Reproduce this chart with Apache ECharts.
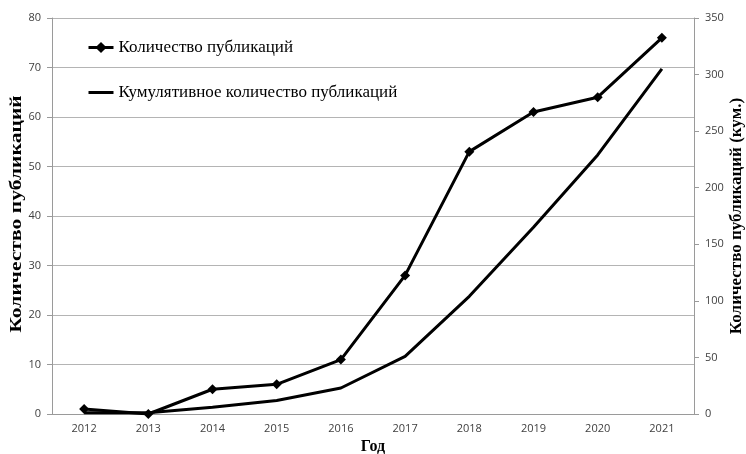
<!DOCTYPE html>
<html><head><meta charset="utf-8">
<script src="https://cdn.jsdelivr.net/npm/echarts@6/dist/echarts.min.js"></script>
<style>html,body{margin:0;padding:0;background:#fff}#c{width:746px;height:454px}</style>
</head><body><div id="c"></div>
<script>
const years = ['2012','2013','2014','2015','2016','2017','2018','2019','2020','2021'];
const counts = [1, 0, 5, 6, 11, 28, 53, 61, 64, 76];
const cumulative = [1, 1, 6, 12, 23, 51, 104, 165, 229, 305];
const nameCount = 'Количество публикаций';
const nameCum = 'Кумулятивное количество публикаций';
const leftTitle = 'Количество публикаций';
const rightTitle = 'Количество публикаций (кум.)';
const xTitle = 'Год';

const chart = echarts.init(document.getElementById('c'));
const labelFont = {fontFamily: '"Open Sans", "Liberation Sans", sans-serif', fontSize: 11, color: '#404040'};
const serif = '"Liberation Serif", "DejaVu Serif", serif';
const titleFont = {fontFamily: serif, fontSize: 15, fontWeight: 'bold', color: '#000'};
chart.setOption({
  animation: false,
  grid: {left: 52, right: 52, top: 18, bottom: 40, outerBoundsMode: 'none', containLabel: false},
  graphic: [{
    type: 'text', x: 17, y: 214, rotation: Math.PI / 2, scaleX: 1.27,
    style: {text: leftTitle, fontFamily: serif, fontSize: 17, fontWeight: 'bold', fill: '#000',
            align: 'center', verticalAlign: 'middle', textAlign: 'center', textVerticalAlign: 'middle'}
  }],
  legend: {
    orient: 'vertical', left: 82, top: 34, itemGap: 28, itemWidth: 25, itemHeight: 14,
    lineStyle: {width: 3},
    textStyle: {fontFamily: serif, fontSize: 17, color: '#000'},
    data: [
      {name: nameCount},
      {name: nameCum, icon: 'path://M0,0 L25,0 L25,3 L0,3 Z', symbolKeepAspect: true}
    ]
  },
  xAxis: {
    type: 'category', data: years, boundaryGap: true,
    axisLine: {lineStyle: {color: '#9a9a9a', width: 1}},
    axisTick: {show: false},
    axisLabel: Object.assign({margin: 9}, labelFont),
    name: xTitle, nameLocation: 'middle', nameGap: 25, nameMoveOverlap: false,
    nameTextStyle: Object.assign({}, titleFont, {fontSize: 16})
  },
  yAxis: [
    {
      type: 'value', min: 0, max: 80, interval: 10, position: 'left',
      axisLine: {show: true, lineStyle: {color: '#9a9a9a'}},
      axisTick: {show: true, length: 5, lineStyle: {color: '#9a9a9a'}},
      splitLine: {lineStyle: {color: '#b4b4b4', width: 1}},
      axisLabel: Object.assign({margin: 11}, labelFont)
    },
    {
      type: 'value', min: 0, max: 350, interval: 50, position: 'right',
      axisLine: {show: true, lineStyle: {color: '#9a9a9a'}},
      axisTick: {show: true, length: 5, lineStyle: {color: '#9a9a9a'}},
      splitLine: {show: false},
      axisLabel: Object.assign({margin: 11}, labelFont),
      name: rightTitle, nameLocation: 'middle', nameGap: 34, nameMoveOverlap: false, nameRotate: 90,
      nameTextStyle: Object.assign({}, titleFont, {fontSize: 17})
    }
  ],
  series: [
    {
      name: nameCount, type: 'line', data: counts, yAxisIndex: 0,
      symbol: 'diamond', symbolSize: 10,
      lineStyle: {color: '#000', width: 3}, itemStyle: {color: '#000'}
    },
    {
      name: nameCum, type: 'line', data: cumulative, yAxisIndex: 1,
      symbol: 'none', showSymbol: false,
      lineStyle: {color: '#000', width: 3}, itemStyle: {color: '#000'}
    }
  ]
});
</script></body></html>
